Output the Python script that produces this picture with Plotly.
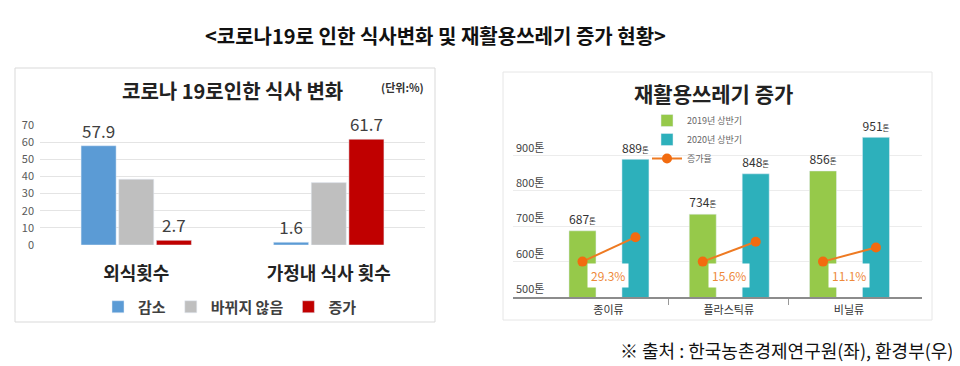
import plotly.graph_objects as go

FONT = "Noto Sans CJK KR"

# ---------------- Left chart data ----------------
meal_categories = ["외식횟수", "가정내 식사 횟수"]
meal_decrease = [57.9, 1.6]
meal_same = [38.4, 36.4]
meal_increase = [2.7, 61.7]
meal_series_names = ["감소", "바뀌지 않음", "증가"]
meal_yticks = [0, 10, 20, 30, 40, 50, 60, 70]

# ---------------- Right chart data ----------------
waste_categories = ["종이류", "플라스틱류", "비닐류"]
waste_2019 = [687, 734, 856]
waste_2020 = [889, 848, 951]
waste_rate_pct = [29.3, 15.6, 11.1]
rate_marker_start = [600, 600, 600]
rate_marker_end = [669, 656, 640]
waste_series_names = ["2019년 상반기", "2020년 상반기", "증가율"]
waste_yticks = [500, 600, 700, 800, 900, 1000]
waste_yticklabels = ["500톤", "600톤", "700톤", "800톤", "900톤", ""]

# the page body has an 8px margin, so the figure is drawn 8px in from the corner
PAGE_OFF = 8
W, H = 960 - PAGE_OFF, 366 - PAGE_OFF


def px(x):
    return (x - PAGE_OFF) / W


def py(y):
    return 1 - (y - PAGE_OFF) / H


fig = go.Figure()

# ---- left bars ----
left_colors = ["#5B9BD5", "#BFBFBF", "#C00000"]
left_vals = [meal_decrease, meal_same, meal_increase]
left_text = [
    [str(v) for v in meal_decrease],
    [None for _ in meal_same],
    [str(v) for v in meal_increase],
]
for name, vals, col, txt in zip(meal_series_names, left_vals, left_colors, left_text):
    fig.add_trace(go.Bar(
        x=meal_categories, y=vals, name=name, marker_color=col,
        text=txt, textposition="outside", cliponaxis=False,
        textfont=dict(size=17, color="#404040", family=FONT),
        xaxis="x", yaxis="y", legend="legend",
    ))

# ---- right bars ----
idx = list(range(len(waste_categories)))
BAR_W = 0.2245
OFF_A = -0.3285
OFF_B = 0.112
fig.add_trace(go.Bar(
    x=idx, y=waste_2019, name=waste_series_names[0], marker_color="#96C94A",
    width=BAR_W, offset=OFF_A, base=0,
    texttemplate="%{y}<span style='font-size:8px'>톤</span>", textposition="outside",
    textfont=dict(size=13, color="#333333", family=FONT), cliponaxis=False,
    xaxis="x2", yaxis="y2", legend="legend2",
))
fig.add_trace(go.Bar(
    x=idx, y=waste_2020, name=waste_series_names[1], marker_color="#2DB0BB",
    width=BAR_W, offset=OFF_B, base=0,
    texttemplate="%{y}<span style='font-size:8px'>톤</span>", textposition="outside",
    textfont=dict(size=13, color="#333333", family=FONT), cliponaxis=False,
    xaxis="x2", yaxis="y2", legend="legend2",
))

# growth-rate segments, from 2019 bar centre to 2020 bar centre
lx, ly = [], []
for i, s, e in zip(idx, rate_marker_start, rate_marker_end):
    lx += [i + OFF_A + BAR_W / 2, i + OFF_B + BAR_W / 2, None]
    ly += [s, e, None]
fig.add_trace(go.Scatter(
    x=lx, y=ly, mode="lines+markers", name=waste_series_names[2],
    line=dict(color="#EE7A22", width=2), marker=dict(color="#F26B0F", size=10),
    cliponaxis=False, xaxis="x2", yaxis="y2", legend="legend2",
))

annotations = []
for i, r in zip(idx, waste_rate_pct):
    annotations.append(dict(
        x=i, y=562, xref="x2", yref="y2", text=f"{r}%", showarrow=False,
        xanchor="center", yanchor="middle",
        font=dict(size=12, color="#EE8A3A", family=FONT),
        bgcolor="white", borderpad=3,
    ))


def note(x, y, text, size, color, xanchor="center"):
    return dict(x=px(x), y=py(y), xref="paper", yref="paper", text=text,
                showarrow=False, xanchor=xanchor, yanchor="middle",
                font=dict(size=size, color=color, family=FONT))


annotations += [
    note(435, 35, "<b><코로나19로 인한 식사변화 및 재활용쓰레기 증가 현황></b>", 20, "#111111"),
    note(232, 90, "<b>코로나 19로인한 식사 변화</b>", 20, "#222222"),
    note(402, 87, "<b>(단위:%)</b>", 11, "#333333"),
    note(713, 93, "<b>재활용쓰레기 증가</b>", 21, "#222222"),
    note(955, 350, "※ 출처 : 한국농촌경제연구원(좌), 환경부(우)", 18, "#111111", "right"),
]

shapes = [
    dict(type="rect", xref="paper", yref="paper",
         x0=px(15), x1=px(435), y0=py(322), y1=py(68),
         line=dict(color="#D9D9D9", width=1), fillcolor="rgba(0,0,0,0)", layer="below"),
    dict(type="rect", xref="paper", yref="paper",
         x0=px(503), x1=px(932), y0=py(320), y1=py(72),
         line=dict(color="#E6E6E6", width=1), fillcolor="rgba(0,0,0,0)", layer="below"),
]

fig.update_layout(
    width=W, height=H,
    margin=dict(l=0, r=0, t=0, b=0, pad=0, autoexpand=False),
    paper_bgcolor="white", plot_bgcolor="white",
    font=dict(family=FONT),
    barmode="group", bargap=0.413, bargroupgap=0.07,
    annotations=annotations, shapes=shapes,
    xaxis=dict(domain=[px(40), px(425)], anchor="y", showline=False,
               showgrid=False, ticks="", ticklabelstandoff=16, automargin=False,
               tickfont=dict(size=18, color="#222222", family=FONT, weight="bold")),
    yaxis=dict(domain=[py(245), py(125)], anchor="x", automargin=False,
               range=[0, 70], tickvals=meal_yticks, showgrid=True,
               gridcolor="#E4E4E4", zeroline=False, showline=False,
               ticklabelstandoff=5,
               tickfont=dict(size=11, color="#595959", family=FONT)),
    xaxis2=dict(domain=[px(513), px(922)], anchor="y2", automargin=False,
                range=[-0.794, 2.607], tickvals=idx, ticktext=waste_categories,
                showgrid=False, zeroline=False, showline=True,
                linecolor="#8C8C8C", linewidth=1.5, ticks="",
                ticklabelstandoff=2,
                tickfont=dict(size=11, color="#333333", family=FONT),
                minor=dict(tickmode="array", tickvals=[i + 0.5 for i in idx[:-1]],
                           ticks="outside", ticklen=6, tickcolor="#999999",
                           showgrid=False)),
    yaxis2=dict(domain=[py(297), py(120)], anchor="x2", automargin=False,
                range=[500, 1000], tickvals=waste_yticks, ticktext=waste_yticklabels,
                ticklabelposition="inside top", showgrid=True,
                gridcolor="#ECECEC", zeroline=False, showline=False,
                tickfont=dict(size=11, color="#444444", family=FONT)),
    legend=dict(orientation="h", x=px(230), xanchor="center",
                y=py(307), yanchor="middle",
                font=dict(size=15, color="#404040", family=FONT, weight="bold"),
                bgcolor="rgba(0,0,0,0)", itemwidth=30),
    legend2=dict(orientation="v", x=px(647), xanchor="left",
                 y=py(106), yanchor="top",
                 font=dict(size=9, color="#666666", family=FONT),
                 bgcolor="rgba(0,0,0,0)", itemwidth=30, tracegroupgap=0),
)

fig.write_html("out.html")
